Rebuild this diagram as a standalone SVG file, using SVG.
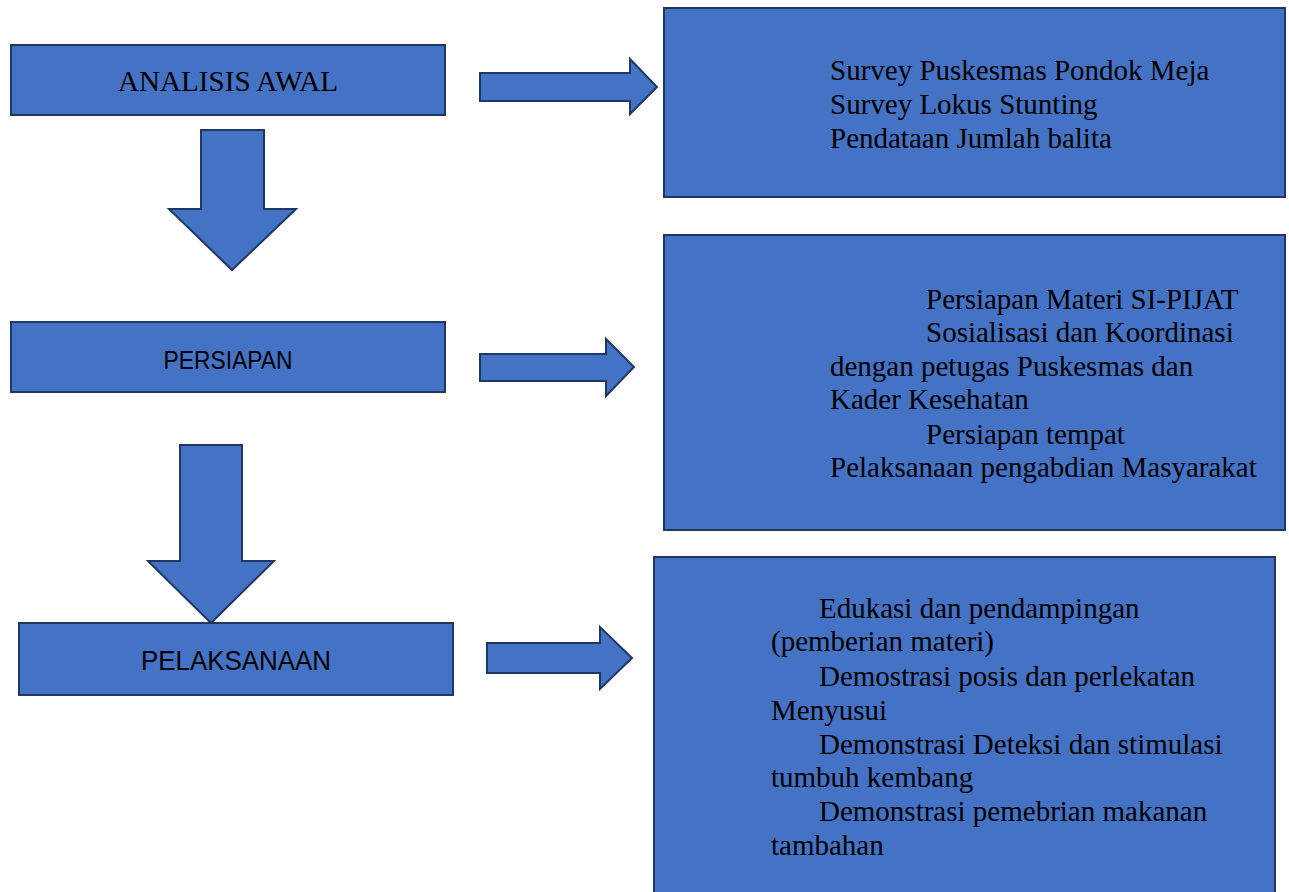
<svg xmlns="http://www.w3.org/2000/svg" width="1289" height="892" viewBox="0 0 1289 892">
<style>
.box{fill:#4472C4;stroke:#1f3763;stroke-width:2}
.arr{fill:#4472C4;stroke:#1f3763;stroke-width:2;stroke-linejoin:miter}
.serif{font-family:"Liberation Serif","Times New Roman",serif;font-size:29px;fill:#000}
.sans{font-family:"Liberation Sans",Arial,sans-serif;fill:#000}
</style>
<rect width="1289" height="892" fill="#fff"/>
<g id="connectors">
<polygon class="arr" points="480,73 630,73 630,59 657,87 630,114 630,101 480,101"/>
<polygon class="arr" points="201,130 264,130 264,209 296,209 232,270 169,209 201,209"/>
<polygon class="arr" points="480,354 606,354 606,339 634,367 606,396 606,381 480,381"/>
<polygon class="arr" points="180,445 242,445 242,561 274,561 211,623 148,561 180,561"/>
<polygon class="arr" points="487,643 600,643 600,627 632,658 600,689 600,673 487,673"/>
</g>
<g id="analisis-awal">
<rect class="box" x="11" y="45" width="434" height="70"/>
<text class="serif" x="228" y="91" text-anchor="middle" font-size="28" textLength="220" lengthAdjust="spacingAndGlyphs">ANALISIS AWAL</text>
</g>
<g id="persiapan">
<rect class="box" x="11" y="322" width="434" height="70"/>
<text class="sans" x="228" y="369" text-anchor="middle" font-size="25" textLength="129" lengthAdjust="spacingAndGlyphs">PERSIAPAN</text>
</g>
<g id="pelaksanaan">
<rect class="box" x="19" y="623" width="434" height="72"/>
<text class="sans" x="236" y="670" text-anchor="middle" font-size="28" textLength="190" lengthAdjust="spacingAndGlyphs">PELAKSANAAN</text>
</g>
<g id="survey-box">
<rect class="box" x="664" y="8" width="621" height="189"/>
<text class="serif" x="830" y="80">Survey Puskesmas Pondok Meja</text>
<text class="serif" x="830" y="114">Survey Lokus Stunting</text>
<text class="serif" x="830" y="148">Pendataan Jumlah balita</text>
</g>
<g id="persiapan-box">
<rect class="box" x="664" y="235" width="621" height="295"/>
<text class="serif" x="926" y="309">Persiapan Materi SI-PIJAT</text>
<text class="serif" x="926" y="342">Sosialisasi dan Koordinasi</text>
<text class="serif" x="830" y="376">dengan petugas Puskesmas dan</text>
<text class="serif" x="830" y="409">Kader Kesehatan</text>
<text class="serif" x="926" y="444">Persiapan tempat</text>
<text class="serif" x="830" y="477">Pelaksanaan pengabdian Masyarakat</text>
</g>
<g id="pelaksanaan-box">
<rect class="box" x="654" y="557" width="621" height="345"/>
<text class="serif" x="819" y="618">Edukasi dan pendampingan</text>
<text class="serif" x="771" y="651">(pemberian materi)</text>
<text class="serif" x="819" y="686">Demostrasi posis dan perlekatan</text>
<text class="serif" x="771" y="720">Menyusui</text>
<text class="serif" x="819" y="754">Demonstrasi Deteksi dan stimulasi</text>
<text class="serif" x="771" y="787">tumbuh kembang</text>
<text class="serif" x="819" y="821">Demonstrasi pemebrian makanan</text>
<text class="serif" x="771" y="855">tambahan</text>
</g>
</svg>
